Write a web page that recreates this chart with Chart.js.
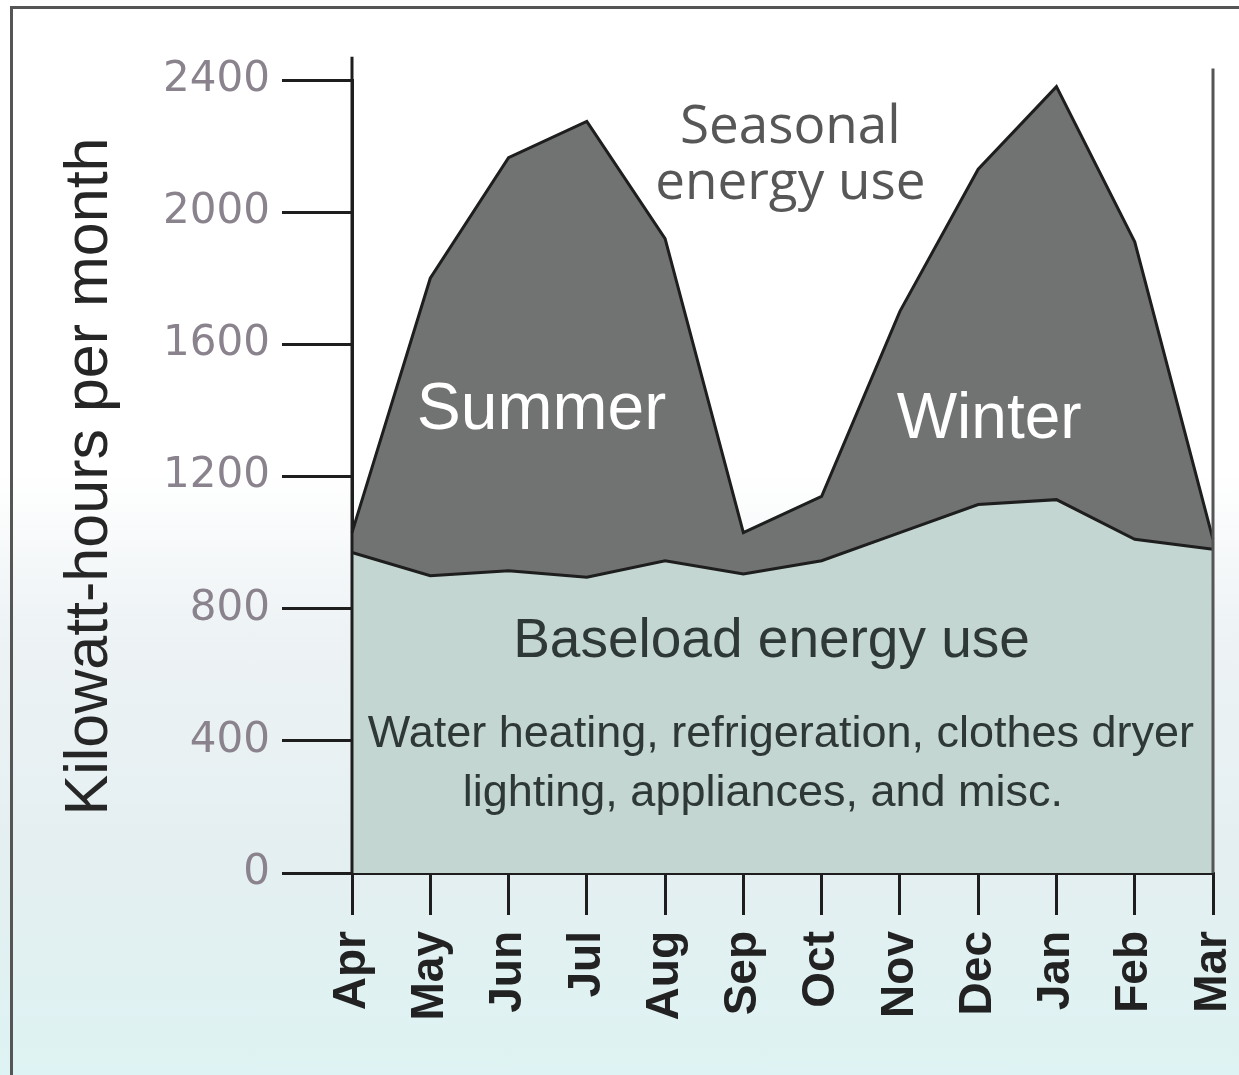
<!DOCTYPE html>
<html>
<head>
<meta charset="utf-8">
<script src="https://cdn.jsdelivr.net/npm/chart.js@4.4.1/dist/chart.umd.min.js"></script>
<style>
	html, body { margin: 0; padding: 0; }
	body {
		width: 1239px; height: 1075px; overflow: hidden;
		background: linear-gradient(to bottom, #ffffff 0%, #ffffff 44%, #eef3f5 58%, #e4eff1 80%, #def3f3 100%);
	}
	#frame {
		position: absolute; left: 10px; top: 6px; width: 1229px; height: 1069px;
		border-left: 3px solid #555; border-top: 3px solid #555;
		box-sizing: border-box; pointer-events: none;
	}
	canvas { position: absolute; left: 0; top: 0; }
</style>
</head>
<body>
<canvas id="chart-energy" width="1239" height="1075"></canvas>
<div id="frame"></div>
<script>
const months = ['Apr', 'May', 'Jun', 'Jul', 'Aug', 'Sep', 'Oct', 'Nov', 'Dec', 'Jan', 'Feb', 'Mar'];

// kWh per month
const baseload = [970, 900, 915, 895, 945, 905, 945, 1030, 1115, 1130, 1010, 980];
const total_use = [1030, 1800, 2165, 2275, 1920, 1030, 1140, 1700, 2130, 2380, 1910, 1010];

const y_min = 0;
const y_max = 2400;
const y_step = 400;

const ink = '#1e1e1e';
const sans = '"Liberation Sans", Arial, sans-serif';

// labels placed in data space: [text, month index, kWh, font, colour]
const notes = [
	['Seasonal', 5.6, 2255, '400 53px "Open Sans", sans-serif', '#575757'],
	['energy use', 5.6, 2085, '400 53px "Open Sans", sans-serif', '#575757'],
	['Summer', 2.42, 1400, '66px ' + sans, '#ffffff'],
	['Winter', 8.14, 1370, '64px ' + sans, '#ffffff'],
	['Baseload energy use', 5.36, 700, '55px ' + sans, '#2e3836'],
	['Water heating, refrigeration, clothes dryer', 5.48, 420, '45px ' + sans, '#2e3836'],
	['lighting, appliances, and misc.', 5.25, 240, '45px ' + sans, '#2e3836'],
];

const extras = {
	id: 'extras',
	afterDraw(chart) {
		const {ctx, scales: {x, y}} = chart;
		ctx.save();
		// axis lines run a little past the plot, as in the print
		ctx.strokeStyle = ink;
		ctx.lineWidth = 3;
		ctx.beginPath();
		ctx.moveTo(x.getPixelForValue(0), y.getPixelForValue(2470));
		ctx.lineTo(x.getPixelForValue(0), y.bottom);
		ctx.stroke();
		ctx.strokeStyle = '#555';
		ctx.lineWidth = 3;
		ctx.beginPath();
		ctx.moveTo(x.getPixelForValue(11), y.getPixelForValue(2435));
		ctx.lineTo(x.getPixelForValue(11), y.bottom);
		ctx.stroke();

		ctx.textAlign = 'center';
		ctx.textBaseline = 'middle';
		notes.forEach(([text, mi, kwh, font, color]) => {
			ctx.font = font;
			ctx.fillStyle = color;
			ctx.fillText(text, x.getPixelForValue(mi), y.getPixelForValue(kwh));
		});
		ctx.restore();
	}
};

const data = {
	labels: months,
	datasets: [
		{
			label: 'Baseload energy use',
			data: baseload,
			borderColor: ink,
			borderWidth: 3,
			backgroundColor: '#c3d6d2',
			fill: 'origin',
			pointRadius: 0,
			tension: 0
		},
		{
			label: 'Seasonal energy use',
			data: total_use,
			borderColor: ink,
			borderWidth: 3,
			backgroundColor: '#707371',
			fill: '-1',
			pointRadius: 0,
			tension: 0
		},
	]
};

const config = {
	type: 'line',
	data: data,
	options: {
		responsive: false,
		animation: false,
		layout: {
			padding: {top: 80, right: 26, left: 0, bottom: 0}
		},
		plugins: {
			legend: {display: false},
			tooltip: {enabled: false},
		},
		scales: {
			x: {
				offset: false,
				afterFit: (s) => {
					s.height = 202;
					s.paddingLeft = 0;
					s.paddingRight = 0;
				},
				border: {color: ink, width: 3},
				grid: {
					offset: false,
					drawOnChartArea: false,
					color: ink,
					lineWidth: 3,
					tickLength: 42
				},
				ticks: {
					autoSkip: false,
					minRotation: 90,
					maxRotation: 90,
					padding: 16,
					color: '#222222',
					font: {family: sans, size: 46, weight: 'bold'}
				}
			},
			y: {
				min: y_min,
				max: y_max,
				afterFit: (s) => { s.width = 352; },
				border: {color: ink, width: 3},
				grid: {
					drawOnChartArea: false,
					color: ink,
					lineWidth: 3,
					tickLength: 70
				},
				ticks: {
					stepSize: y_step,
					padding: 12,
					color: '#8a838d',
					font: {family: '"DejaVu Sans", sans-serif', size: 42},
					callback: (v) => String(v)
				},
				title: {
					display: true,
					text: 'Kilowatt-hours per month',
					color: '#262626',
					padding: {top: 54, bottom: 0},
					font: {family: sans, size: 61}
				}
			}
		}
	},
	plugins: [extras]
};

document.addEventListener('DOMContentLoaded', () => {
	const ctx = document.getElementById('chart-energy');
	const chartEnergy = new Chart(ctx, config);
});
</script>
</body>
</html>
